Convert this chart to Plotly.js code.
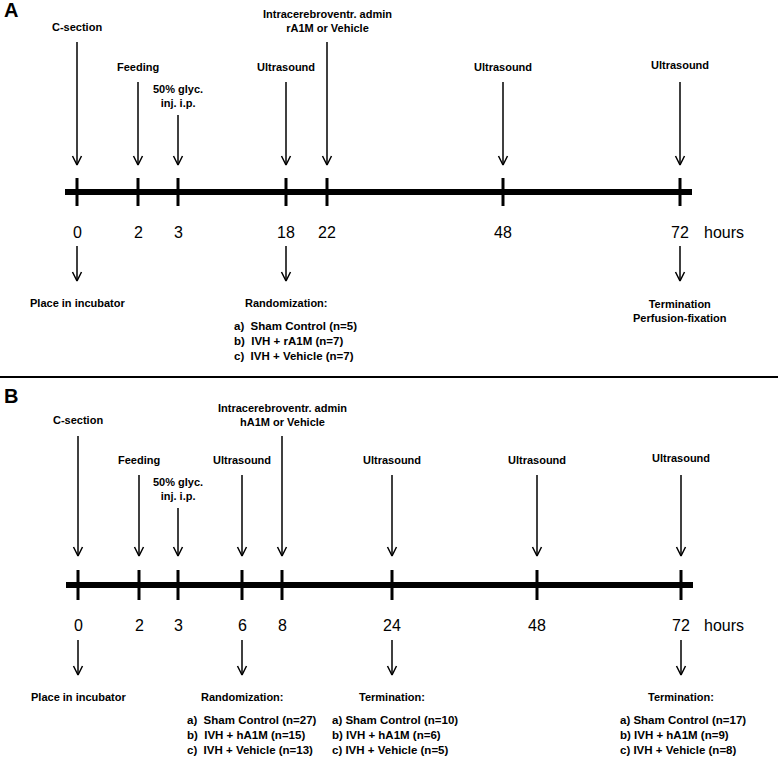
<!DOCTYPE html>
<html>
<head>
<meta charset="utf-8">
<script src="https://cdn.plot.ly/plotly-3.0.1.min.js"></script>
<style>html,body{margin:0;padding:0;background:#fff;}#chart{width:778px;height:757px;}</style>
</head>
<body>
<div id="chart"></div>
<script>
// ---------------- DATA ----------------
const hoursA = [0, 2, 3, 18, 22, 48, 72];
const eventsAboveA = ['C-section', 'Feeding', '50% glyc.<br>inj. i.p.', 'Ultrasound',
  'Intracerebroventr. admin<br>rA1M or Vehicle', 'Ultrasound', 'Ultrasound'];
const belowHoursA = [0, 18, 72];
const belowTitlesA = ['Place in incubator', 'Randomization:', 'Termination<br>Perfusion-fixation'];
const groupsA = ['Sham Control', 'IVH + rA1M', 'IVH + Vehicle'];
const nRandA = [5, 7, 7];

const hoursB = [0, 2, 3, 6, 8, 24, 48, 72];
const eventsAboveB = ['C-section', 'Feeding', '50% glyc.<br>inj. i.p.', 'Ultrasound',
  'Intracerebroventr. admin<br>hA1M or Vehicle', 'Ultrasound', 'Ultrasound', 'Ultrasound'];
const belowHoursB = [0, 6, 24, 72];
const belowTitlesB = ['Place in incubator', 'Randomization:', 'Termination:', 'Termination:'];
const groupsB = ['Sham Control', 'IVH + hA1M', 'IVH + Vehicle'];
const nRandB = [27, 15, 13];
const nTerm24B = [10, 6, 5];
const nTerm72B = [17, 9, 8];
const unitLabel = 'hours';
const panelLetters = ['A', 'B'];

// ---------------- LAYOUT (positions, in pixel-like axis units) ----------------
const W = 778, H = 757;
const FONT = '"Liberation Sans", Arial, sans-serif';
const panels = [
  {
    hours: hoursA, labels: eventsAboveA,
    pos: [77, 138, 178, 286, 327, 503, 680],
    labelY: [27, 67, 95.5, 67, 21, 67, 65],
    arrowTop: [42, 82, 115, 82, 42, 82, 82],
    arrowEnd: 165, lineY: 192, tickHalf: 14, tickLabelY: 232,
    belowHours: belowHoursA, belowTitles: belowTitlesA,
    belowArrow: [246, 281], belowTitleY: [303, 303, 310.5],
    lists: [{hour: 18, groups: groupsA, n: nRandA, x: 232, sep: '\u00a0 '}],
    listY: 340.5, letterY: 10
  },
  {
    hours: hoursB, labels: eventsAboveB,
    pos: [78, 139, 178, 242, 282, 392, 537, 681],
    labelY: [420, 460, 489, 460, 414.5, 460, 460, 458],
    arrowTop: [436, 475, 508, 475, 436, 475, 475, 475],
    arrowEnd: 556, lineY: 585, tickHalf: 15, tickLabelY: 625,
    belowHours: belowHoursB, belowTitles: belowTitlesB,
    belowArrow: [640, 675], belowTitleY: [697, 697, 697, 697],
    lists: [
      {hour: 6, groups: groupsB, n: nRandB, x: 185, sep: '\u00a0 '},
      {hour: 24, groups: groupsB, n: nTerm24B, x: 330, sep: ' '},
      {hour: 72, groups: groupsB, n: nTerm72B, x: 618, sep: ' '}
    ],
    listY: 734.5, letterY: 396
  }
];
const separatorY = 377;

// ---------------- BUILD ----------------
const traces = [];
const annotations = [];
const arrowX = [], arrowY = [];
function addArrow(x, y0, y1) {
  arrowX.push(x, x, null, x - 4.5, x, x + 4.5, null);
  arrowY.push(y0, y1, null, y1 - 9, y1, y1 - 9, null);
}
const txt = (x, y, text, opts) => Object.assign({
  x: x, y: y, xref: 'x', yref: 'y', text: text, showarrow: false,
  xanchor: 'center', yanchor: 'middle',
  font: {family: FONT, size: 11, color: '#000', weight: 700}
}, opts || {});

panels.forEach((p, pi) => {
  const posOf = h => p.pos[p.hours.indexOf(h)];
  // timeline
  traces.push({x: [p.pos[0] - 12, p.pos[p.pos.length - 1] + 12], y: [p.lineY, p.lineY],
    mode: 'lines', line: {color: '#000', width: 6}, hoverinfo: 'skip'});
  const tx = [], ty = [];
  p.hours.forEach((h, i) => {
    tx.push(p.pos[i], p.pos[i], null);
    ty.push(p.lineY - p.tickHalf, p.lineY + p.tickHalf, null);
    // tick label
    annotations.push(txt(p.pos[i], p.tickLabelY, String(h),
      {font: {family: FONT, size: 16, color: '#000', weight: 400}}));
    // event above
    annotations.push(txt(p.pos[i], p.labelY[i], p.labels[i]));
    addArrow(p.pos[i], p.arrowTop[i], p.arrowEnd);
  });
  traces.push({x: tx, y: ty, mode: 'lines', line: {color: '#000', width: 3}, hoverinfo: 'skip'});
  annotations.push(txt(702, p.tickLabelY, unitLabel,
    {xanchor: 'left', font: {family: FONT, size: 16, color: '#000', weight: 400}}));
  // below events
  p.belowHours.forEach((h, i) => {
    const x = posOf(h);
    addArrow(x, p.belowArrow[0], p.belowArrow[1]);
    annotations.push(txt(x, p.belowTitleY[i], p.belowTitles[i]));
  });
  p.lists.forEach(l => {
    const text = l.groups.map((g, i) => String.fromCharCode(97 + i) + ')' + l.sep + g + ' (n=' + l.n[i] + ')').join('<br>');
    annotations.push(txt(l.x, p.listY, text,
      {xanchor: 'left', align: 'left', font: {family: FONT, size: 11.5, color: '#000', weight: 700}}));
  });
  annotations.push(txt(2, p.letterY, panelLetters[pi],
    {xanchor: 'left', font: {family: FONT, size: 20, color: '#000', weight: 700}}));
});
traces.push({x: arrowX, y: arrowY, mode: 'lines', line: {color: '#000', width: 1.5}, hoverinfo: 'skip'});
traces.push({x: [0, W], y: [separatorY, separatorY], mode: 'lines', line: {color: '#000', width: 2}, hoverinfo: 'skip'});

const layout = {
  width: W, height: H,
  margin: {l: 0, r: 0, t: 0, b: 0},
  paper_bgcolor: '#fff', plot_bgcolor: '#fff',
  showlegend: false,
  xaxis: {range: [0, W], visible: false, fixedrange: true},
  yaxis: {range: [H, 0], visible: false, fixedrange: true},
  annotations: annotations
};
Plotly.newPlot('chart', traces, layout, {displayModeBar: false, staticPlot: true});
</script>
</body>
</html>
